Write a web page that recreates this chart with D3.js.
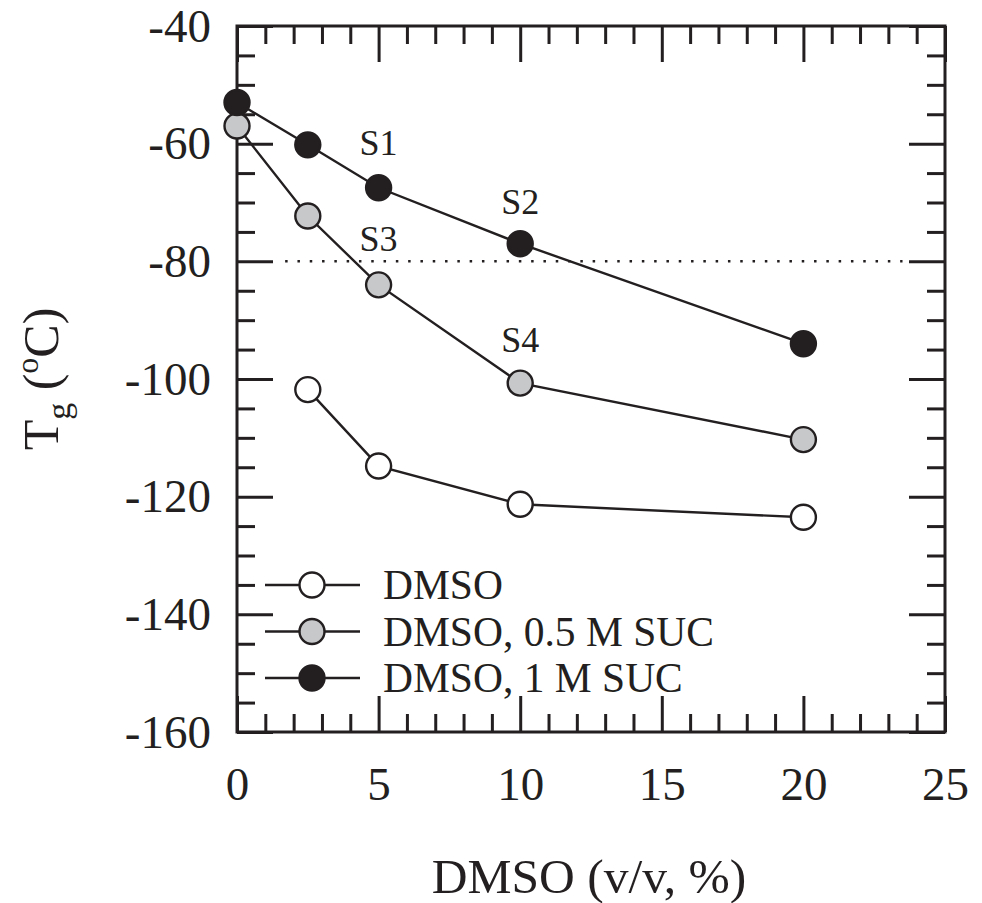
<!DOCTYPE html>
<html>
<head>
<meta charset="utf-8">
<script src="https://cdn.jsdelivr.net/npm/d3@7"></script>
<style>
  body { margin: 0; background: #fff; }
  svg { display: block; }
  text { font-family: "Liberation Serif", "Times New Roman", serif; fill: #231f20; }
</style>
</head>
<body>
<script>
// data
const dmsoX = [0, 2.5, 5, 10, 20];
const tgOneMSuc = [-53, -60.2, -67.5, -77, -94];
const tgHalfMSuc = [-57, -72.3, -84, -100.7, -110.3];
const dmsoOnlyX = [2.5, 5, 10, 20];
const tgDmsoOnly = [-101.8, -114.8, -121.3, -123.5];

const xMajor = [0, 5, 10, 15, 20, 25];
const yMajor = [-40, -60, -80, -100, -120, -140, -160];
const refLineY = -80;
const refLineX = [1.7, 23.5];

const labels = ["S1", "S2", "S3", "S4"];
const labelX = [5, 10, 5, 10];
const labelY = [-61.9, -71.9, -78.3, -95.4];

const legendNames = ["DMSO", "DMSO, 0.5 M SUC", "DMSO, 1 M SUC"];
const ink = "#231f20";
const fills = ["#ffffff", "#c7c8ca", "#231f20"];

const width = 982, height = 903;
const margin = { top: 26, right: 37, bottom: 171, left: 237 };

const svg = d3.select("body").append("svg")
  .attr("width", width)
  .attr("height", height);

const x = d3.scaleLinear().domain([0, 25]).range([margin.left, width - margin.right]);
const y = d3.scaleLinear().domain([-160, -40]).range([height - margin.bottom, margin.top]);

const xMinor = d3.range(0, 26, 1).filter(v => v % 5 !== 0);
const yMinor = d3.range(-160, -39, 5).filter(v => v % 20 !== 0);

// plain hyphen minus like the original
const plain = d => String(d);

// axes, ticks pointing inward
function styleAxis(g, fontSize) {
  g.select(".domain").remove();
  g.selectAll(".tick line").attr("stroke", ink).attr("stroke-width", 3);
  g.selectAll(".tick text")
    .style("font-size", fontSize + "px")
    .attr("fill", ink);
}

svg.append("g")
  .attr("transform", `translate(0,${y(-160)})`)
  .call(d3.axisBottom(x).tickValues(xMajor).tickSize(-36).tickPadding(35).tickFormat(plain))
  .call(g => styleAxis(g, 47));
svg.append("g")
  .attr("transform", `translate(0,${y(-160)})`)
  .call(d3.axisBottom(x).tickValues(xMinor).tickSize(-18).tickFormat(""))
  .call(g => styleAxis(g, 0));
svg.append("g")
  .attr("transform", `translate(0,${y(-40)})`)
  .call(d3.axisTop(x).tickValues(xMajor).tickSize(-36).tickFormat(""))
  .call(g => styleAxis(g, 0));
svg.append("g")
  .attr("transform", `translate(0,${y(-40)})`)
  .call(d3.axisTop(x).tickValues(xMinor).tickSize(-18).tickFormat(""))
  .call(g => styleAxis(g, 0));

svg.append("g")
  .attr("transform", `translate(${x(0)},0)`)
  .call(d3.axisLeft(y).tickValues(yMajor).tickSize(-36).tickPadding(26).tickFormat(plain))
  .call(g => styleAxis(g, 47));
svg.append("g")
  .attr("transform", `translate(${x(0)},0)`)
  .call(d3.axisLeft(y).tickValues(yMinor).tickSize(-18).tickFormat(""))
  .call(g => styleAxis(g, 0));
svg.append("g")
  .attr("transform", `translate(${x(25)},0)`)
  .call(d3.axisRight(y).tickValues(yMajor).tickSize(-36).tickFormat(""))
  .call(g => styleAxis(g, 0));
svg.append("g")
  .attr("transform", `translate(${x(25)},0)`)
  .call(d3.axisRight(y).tickValues(yMinor).tickSize(-18).tickFormat(""))
  .call(g => styleAxis(g, 0));

// frame
svg.append("rect")
  .attr("x", x(0))
  .attr("y", y(-40))
  .attr("width", x(25) - x(0))
  .attr("height", y(-160) - y(-40))
  .attr("fill", "none")
  .attr("stroke", ink)
  .attr("stroke-width", 3);

// dotted -80 line
svg.append("line")
  .attr("x1", x(refLineX[0]))
  .attr("x2", x(refLineX[1]))
  .attr("y1", y(refLineY))
  .attr("y2", y(refLineY))
  .attr("stroke", ink)
  .attr("stroke-width", 2.5)
  .attr("stroke-dasharray", "2.5,9.8");

// series
const series = [
  { xs: dmsoOnlyX, ys: tgDmsoOnly, fill: fills[0] },
  { xs: dmsoX, ys: tgHalfMSuc, fill: fills[1] },
  { xs: dmsoX, ys: tgOneMSuc, fill: fills[2] }
];

const line = d3.line().x(d => x(d[0])).y(d => y(d[1]));

series.forEach(s => {
  const pts = s.xs.map((v, i) => [v, s.ys[i]]);
  svg.append("path")
    .datum(pts)
    .attr("d", line)
    .attr("fill", "none")
    .attr("stroke", ink)
    .attr("stroke-width", 2.4);
  svg.append("g")
    .selectAll("circle")
    .data(pts)
    .join("circle")
    .attr("cx", d => x(d[0]))
    .attr("cy", d => y(d[1]))
    .attr("r", 12.5)
    .attr("fill", s.fill)
    .attr("stroke", ink)
    .attr("stroke-width", 2.4);
});

// S labels
svg.append("g")
  .selectAll("text")
  .data(labels)
  .join("text")
  .attr("x", (d, i) => x(labelX[i]))
  .attr("y", (d, i) => y(labelY[i]))
  .attr("text-anchor", "middle")
  .style("font-size", "36px")
  .text(d => d);

// legend
const legend = svg.append("g");
legendNames.forEach((name, i) => {
  const cy = 585 + i * 46.5;
  legend.append("line")
    .attr("x1", 265).attr("x2", 360)
    .attr("y1", cy).attr("y2", cy)
    .attr("stroke", ink).attr("stroke-width", 2.4);
  legend.append("circle")
    .attr("cx", 312).attr("cy", cy).attr("r", 12.5)
    .attr("fill", fills[i]).attr("stroke", ink).attr("stroke-width", 2.4);
  legend.append("text")
    .attr("x", 383).attr("y", cy + 14)
    .style("font-size", "41.5px")
    .text(name);
});

// axis titles
svg.append("text")
  .attr("x", (x(0) + x(25)) / 2 - 2)
  .attr("y", 893)
  .attr("text-anchor", "middle")
  .style("font-size", "49.5px")
  .text("DMSO (v/v, %)");

const yTitle = svg.append("text")
  .attr("transform", `translate(58,${(y(-40) + y(-160)) / 2}) rotate(-90)`)
  .attr("text-anchor", "middle")
  .style("font-size", "50px");
yTitle.append("tspan").text("T");
yTitle.append("tspan").attr("dy", 12).style("font-size", "34px").text("g");
yTitle.append("tspan").attr("dy", -12).text(" (");
yTitle.append("tspan").attr("dy", -20).style("font-size", "32px").text("o");
yTitle.append("tspan").attr("dy", 20).text("C)");
</script>
</body>
</html>
